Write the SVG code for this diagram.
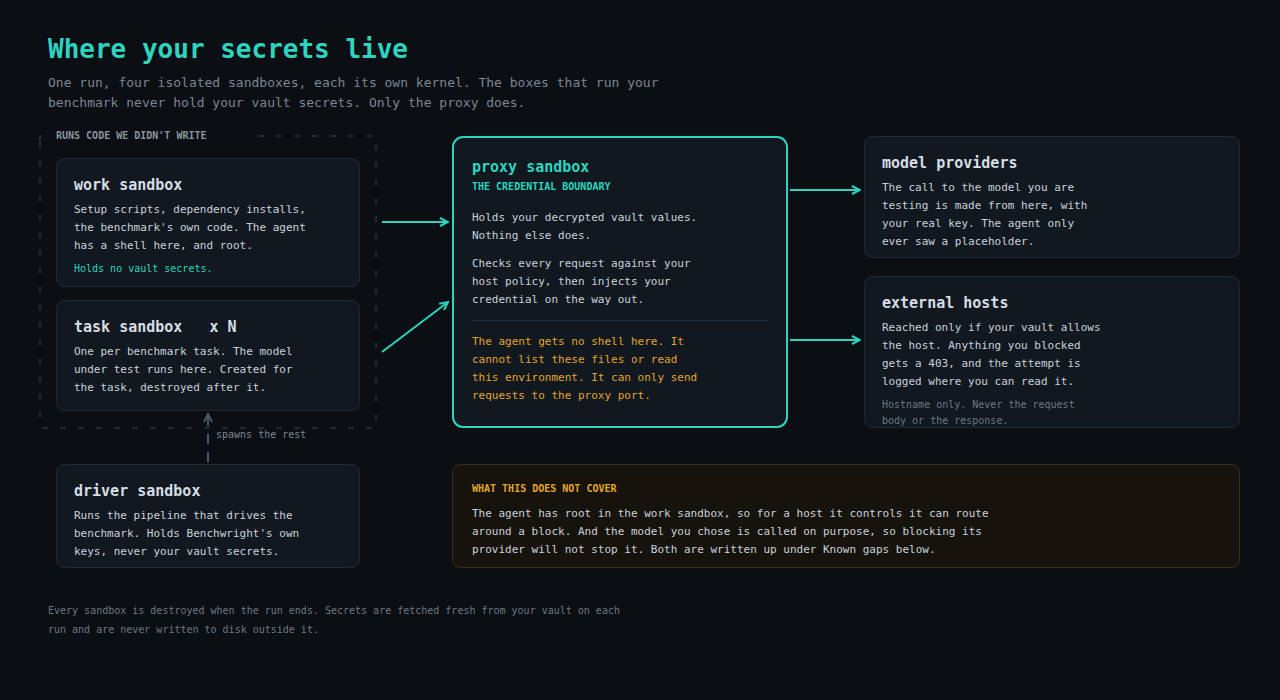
<svg xmlns="http://www.w3.org/2000/svg" width="1280" height="700" viewBox="0 0 1280 700">
<defs>
<style>
text{font-family:"DejaVu Sans Mono","Liberation Mono",monospace;white-space:pre}
.title{font-size:26px;font-weight:bold;fill:#2dd4bf}
.sub{font-size:13px;fill:#7d8590}
.h{font-size:15px;font-weight:bold;fill:#d6dde5}
.b{font-size:11px;fill:#c9d1d9}
.t10{font-size:10px;fill:#2dd4bf}
.cap{font-size:10px;font-weight:bold}
.muted{font-size:10px;fill:#6e7781}
.amber{font-size:11px;fill:#e3a52a}
.box{fill:#111820;stroke:#1f2a35;stroke-width:1}
.conn{stroke:#2dd4bf;stroke-width:2;fill:none}
</style>
<marker id="ah" viewBox="0 0 10 10" refX="9" refY="5" markerWidth="10" markerHeight="10" markerUnits="userSpaceOnUse" orient="auto">
<path d="M1,1 L9,5 L1,9" fill="none" stroke="#2dd4bf" stroke-width="2"/>
</marker>
<marker id="ahg" viewBox="0 0 10 10" refX="9" refY="5" markerWidth="10" markerHeight="10" markerUnits="userSpaceOnUse" orient="auto">
<path d="M1,1 L9,5 L1,9" fill="none" stroke="#4a5866" stroke-width="2"/>
</marker>
</defs>
<rect width="1280" height="700" fill="#0b0f14"/>

<g id="header">
<text class="title" x="48" y="58">Where your secrets live</text>
<text class="sub" x="48" y="87">One run, four isolated sandboxes, each its own kernel. The boxes that run your</text>
<text class="sub" x="48" y="107">benchmark never hold your vault secrets. Only the proxy does.</text>
</g>

<g id="untrusted-group">
<path d="M40,141 V136 H46 M258,136 H376 V428 H40 V141" fill="none" stroke="#3a4654" stroke-width="1" stroke-dasharray="6 12"/>
<text class="cap" x="56" y="139" fill="#8b949e">RUNS CODE WE DIDN'T WRITE</text>
</g>

<g id="work-sandbox">
<rect class="box" x="56.5" y="158.5" width="303" height="128" rx="8"/>
<text class="h" x="74" y="190">work sandbox</text>
<text class="b" x="74" y="213">Setup scripts, dependency installs,</text>
<text class="b" x="74" y="231">the benchmark's own code. The agent</text>
<text class="b" x="74" y="249">has a shell here, and root.</text>
<text class="t10" x="74" y="272">Holds no vault secrets.</text>
</g>

<g id="task-sandbox">
<rect class="box" x="56.5" y="300.5" width="303" height="110" rx="8"/>
<text class="h" x="74" y="332">task sandbox   x N</text>
<text class="b" x="74" y="355">One per benchmark task. The model</text>
<text class="b" x="74" y="373">under test runs here. Created for</text>
<text class="b" x="74" y="391">the task, destroyed after it.</text>
</g>

<g id="driver-sandbox">
<rect class="box" x="56.5" y="464.5" width="303" height="103" rx="8"/>
<text class="h" x="74" y="496">driver sandbox</text>
<text class="b" x="74" y="519">Runs the pipeline that drives the</text>
<text class="b" x="74" y="537">benchmark. Holds Benchwright's own</text>
<text class="b" x="74" y="555">keys, never your vault secrets.</text>
</g>

<g id="proxy-sandbox">
<rect x="453" y="137" width="334" height="290" rx="10" fill="#111820" stroke="#2dd4bf" stroke-width="2"/>
<text x="472" y="172" font-size="15" font-weight="bold" fill="#2dd4bf">proxy sandbox</text>
<text class="cap" x="472" y="190" fill="#2dd4bf">THE CREDENTIAL BOUNDARY</text>
<text class="b" x="472" y="221">Holds your decrypted vault values.</text>
<text class="b" x="472" y="239">Nothing else does.</text>
<text class="b" x="472" y="267">Checks every request against your</text>
<text class="b" x="472" y="285">host policy, then injects your</text>
<text class="b" x="472" y="303">credential on the way out.</text>
<line x1="472" y1="320.5" x2="768" y2="320.5" stroke="#243240" stroke-width="1"/>
<text class="amber" x="472" y="345">The agent gets no shell here. It</text>
<text class="amber" x="472" y="363">cannot list these files or read</text>
<text class="amber" x="472" y="381">this environment. It can only send</text>
<text class="amber" x="472" y="399">requests to the proxy port.</text>
</g>

<g id="model-providers">
<rect class="box" x="864.5" y="136.5" width="375" height="121" rx="8"/>
<text class="h" x="882" y="168">model providers</text>
<text class="b" x="882" y="191">The call to the model you are</text>
<text class="b" x="882" y="209">testing is made from here, with</text>
<text class="b" x="882" y="227">your real key. The agent only</text>
<text class="b" x="882" y="245">ever saw a placeholder.</text>
</g>

<g id="external-hosts">
<rect class="box" x="864.5" y="276.5" width="375" height="151" rx="8"/>
<text class="h" x="882" y="308">external hosts</text>
<text class="b" x="882" y="331">Reached only if your vault allows</text>
<text class="b" x="882" y="349">the host. Anything you blocked</text>
<text class="b" x="882" y="367">gets a 403, and the attempt is</text>
<text class="b" x="882" y="385">logged where you can read it.</text>
<text class="muted" x="882" y="408">Hostname only. Never the request</text>
<text class="muted" x="882" y="424">body or the response.</text>
</g>

<g id="not-covered">
<rect x="452.5" y="464.5" width="787" height="103" rx="8" fill="#16130d" stroke="#3a2f1c" stroke-width="1"/>
<text class="cap" x="472" y="492" fill="#e3a52a">WHAT THIS DOES NOT COVER</text>
<text class="b" x="472" y="517">The agent has root in the work sandbox, so for a host it controls it can route</text>
<text class="b" x="472" y="535">around a block. And the model you chose is called on purpose, so blocking its</text>
<text class="b" x="472" y="553">provider will not stop it. Both are written up under Known gaps below.</text>
</g>

<g id="connectors">
<line class="conn" x1="382" y1="222" x2="448" y2="222" marker-end="url(#ah)"/>
<line class="conn" x1="382" y1="352" x2="448" y2="302" marker-end="url(#ah)"/>
<line class="conn" x1="790" y1="190" x2="860" y2="190" marker-end="url(#ah)"/>
<line class="conn" x1="790" y1="340" x2="860" y2="340" marker-end="url(#ah)"/>
<line x1="208" y1="462" x2="208" y2="414" stroke="#4a5866" stroke-width="2" stroke-dasharray="10 8" marker-end="url(#ahg)"/>
<text x="216" y="438" font-size="10" fill="#7d8590">spawns the rest</text>
</g>

<g id="footer">
<text class="muted" x="48" y="614">Every sandbox is destroyed when the run ends. Secrets are fetched fresh from your vault on each</text>
<text class="muted" x="48" y="633">run and are never written to disk outside it.</text>
</g>
</svg>
